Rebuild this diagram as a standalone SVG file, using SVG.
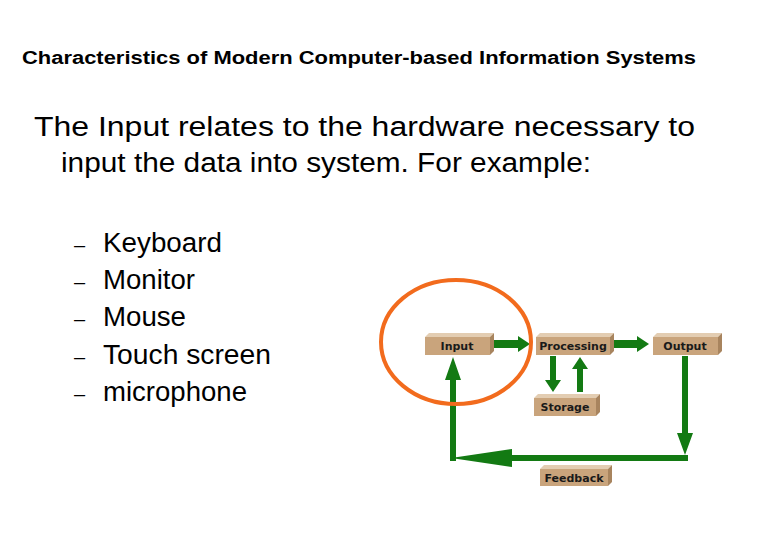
<svg xmlns="http://www.w3.org/2000/svg" width="780" height="540" viewBox="0 0 780 540">
<style>
.t{font-family:"Liberation Sans",Arial,sans-serif;fill:#000}
.b{font-family:Verdana,"DejaVu Sans",sans-serif;font-weight:bold;font-size:11px;fill:#1a1a1a;text-anchor:middle}
.front{fill:#c9a47c}.top{fill:#e3cdb2}.side{fill:#a8845e}
.ar{fill:#137a13}
</style>
<rect width="780" height="540" fill="#fff"/>
<text class="t" x="22" y="64" font-size="18" font-weight="bold" textLength="674" lengthAdjust="spacingAndGlyphs">Characteristics of Modern Computer-based Information Systems</text>
<text class="t" x="34" y="136" font-size="27" textLength="661" lengthAdjust="spacingAndGlyphs">The Input relates to the hardware necessary to</text>
<text class="t" x="61" y="172" font-size="27" textLength="530" lengthAdjust="spacingAndGlyphs">input the data into system.  For example:</text>
<g class="t" font-size="27">
<text x="74" y="252" font-size="20">–</text><text x="103" y="252" textLength="119" lengthAdjust="spacingAndGlyphs">Keyboard</text>
<text x="74" y="289" font-size="20">–</text><text x="103" y="289" textLength="92" lengthAdjust="spacingAndGlyphs">Monitor</text>
<text x="74" y="326" font-size="20">–</text><text x="103" y="326" textLength="83" lengthAdjust="spacingAndGlyphs">Mouse</text>
<text x="74" y="364" font-size="20">–</text><text x="103" y="364" textLength="168" lengthAdjust="spacingAndGlyphs">Touch screen</text>
<text x="74" y="401" font-size="20">–</text><text x="103" y="401" textLength="144" lengthAdjust="spacingAndGlyphs">microphone</text>
</g>
<g id="connectors">
<polygon class="ar" points="494,340 518,340 518,336 530,344 518,352 518,348 494,348"/>
<polygon class="ar" points="614,340 637,340 637,336 649,344 637,352 637,348 614,348"/>
<polygon class="ar" points="550,356 556,356 556,380 561,380 553,392 545,380 550,380"/>
<polygon class="ar" points="577,392 583,392 583,369 588,369 580,357 572,369 577,369"/>
<polygon class="ar" points="682,356 688,356 688,433 693,433 685,455 677,433 682,433"/>
<polygon class="ar" points="688,455 688,461 512,461 512,467 451,458 512,449 512,455"/>
<polygon class="ar" points="450,461 456,461 456,380 461,380 453,357 445,380 450,380"/>
</g>
<g id="input"><polygon class="top" points="425,337 429,333 494,333 490,337"/><polygon class="side" points="490,337 494,333 494,351 490,355"/><rect class="front" x="425" y="337" width="65" height="18"/><text class="b" x="457" y="350">Input</text></g>
<g id="processing"><polygon class="top" points="536,337 540,333 614,333 610,337"/><polygon class="side" points="610,337 614,333 614,351 610,355"/><rect class="front" x="536" y="337" width="74" height="18"/><text class="b" x="573" y="350">Processing</text></g>
<g id="output"><polygon class="top" points="653,337 657,333 722,333 718,337"/><polygon class="side" points="718,337 722,333 722,351 718,355"/><rect class="front" x="653" y="337" width="65" height="18"/><text class="b" x="685" y="350">Output</text></g>
<g id="storage"><polygon class="top" points="534,398 538,394 600,394 596,398"/><polygon class="side" points="596,398 600,394 600,412 596,416"/><rect class="front" x="534" y="398" width="62" height="18"/><text class="b" x="565" y="411">Storage</text></g>
<g id="feedback"><polygon class="top" points="540,469 544,465 612,465 608,469"/><polygon class="side" points="608,469 612,465 612,482 608,486"/><rect class="front" x="540" y="469" width="68" height="17"/><text class="b" x="574" y="482">Feedback</text></g>
<ellipse cx="456" cy="342" rx="75" ry="62" fill="none" stroke="#f26b1d" stroke-width="4"/>
</svg>
